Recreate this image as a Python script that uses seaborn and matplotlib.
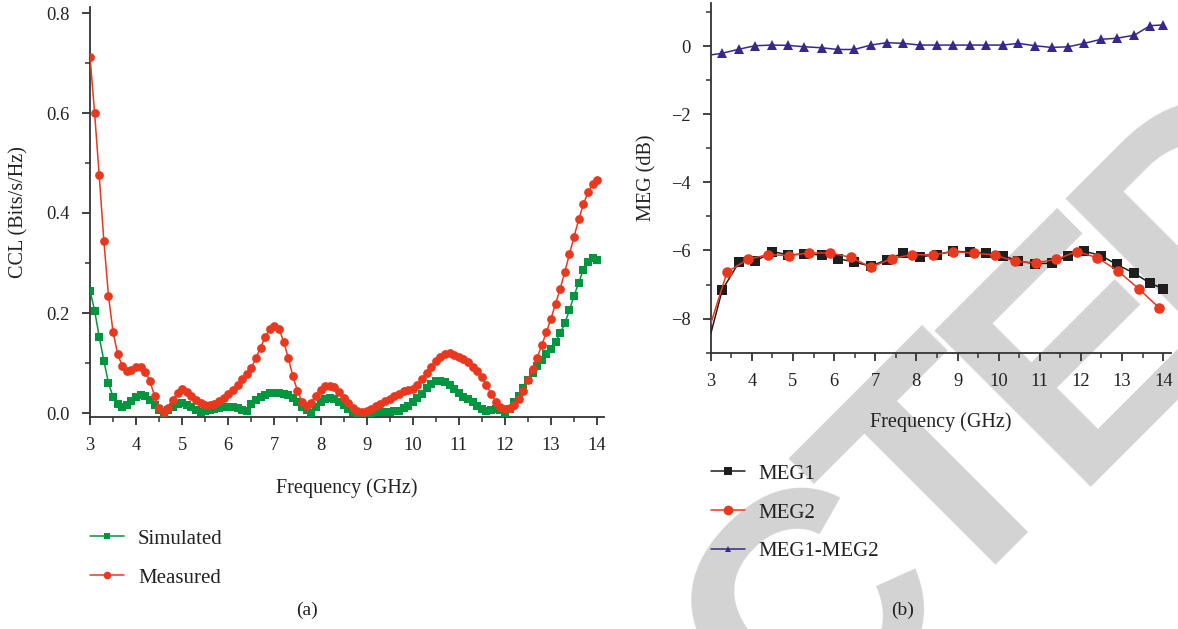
import numpy as np
import pandas as pd
import matplotlib
matplotlib.use("Agg")
import matplotlib.pyplot as plt
import seaborn as sns
from matplotlib.ticker import MultipleLocator, FormatStrFormatter
from matplotlib.lines import Line2D

# ---------------- data ----------------
freq_a = np.round(np.arange(3.0, 14.001, 0.1), 1)
simulated = [
    .245, .205, .152, .105, .060, .032, .018, .013, .017, .024,
    .032, .037, .035, .027, .017, .006, .000, .006, .013, .019,
    .020, .017, .012, .006, .003, .005, .007, .008, .010, .012,
    .013, .012, .010, .007, .005, .019, .027, .032, .036, .040,
    .041, .041, .039, .036, .031, .023, .013, .006, .001, .012,
    .022, .029, .031, .028, .023, .017, .009, .002, .001, .001,
    .001, .001, .002, .002, .002, .003, .004, .005, .010, .015,
    .022, .030, .039, .050, .058, .064, .064, .062, .057, .048,
    .040, .033, .028, .022, .014, .008, .005, .007, .009, .006,
    .000, .008, .022, .035, .050, .067, .080, .094, .107, .118,
    .128, .143, .160, .180, .206, .235, .260, .287, .303, .310,
    .307]
measured = [
    .713, .600, .475, .345, .235, .162, .118, .094, .084, .086,
    .092, .093, .083, .064, .034, .010, .002, .011, .027, .041,
    .048, .043, .035, .027, .020, .016, .016, .019, .025, .031,
    .039, .047, .056, .069, .079, .090, .110, .131, .152, .168,
    .175, .168, .143, .110, .074, .044, .022, .015, .021, .035,
    .047, .054, .055, .052, .043, .031, .020, .011, .005, .003,
    .004, .009, .014, .019, .024, .029, .034, .039, .044, .047,
    .049, .057, .068, .081, .093, .104, .112, .118, .120, .117,
    .113, .109, .102, .092, .084, .073, .056, .038, .023, .012,
    .008, .010, .017, .028, .044, .067, .088, .111, .136, .162,
    .189, .219, .249, .283, .318, .353, .387, .417, .441, .458,
    .465]

freq_b1 = [3.0, 3.28, 3.69, 4.08, 4.5, 4.89, 5.28, 5.7, 6.1, 6.49, 6.89, 7.28,
           7.68, 8.08, 8.49, 8.89, 9.3, 9.69, 10.1, 10.48, 10.88, 11.29, 11.69,
           12.08, 12.49, 12.87, 13.3, 13.68, 14.0]
meg1 = [-8.45, -7.16, -6.34, -6.32, -6.03, -6.13, -6.10, -6.13, -6.24, -6.34,
        -6.46, -6.27, -6.08, -6.19, -6.12, -6.02, -6.05, -6.08, -6.15, -6.31,
        -6.39, -6.37, -6.15, -6.02, -6.15, -6.41, -6.67, -6.96, -7.12]
meg_diff = [-0.26, -0.21, -0.09, 0.01, 0.03, 0.02, -0.02, -0.05, -0.10, -0.10,
            0.03, 0.10, 0.08, 0.03, 0.03, 0.03, 0.03, 0.03, 0.03, 0.08, 0.01,
            -0.04, -0.02, 0.08, 0.20, 0.23, 0.32, 0.60, 0.62]
freq_b2 = [3.0, 3.4, 3.9, 4.4, 4.9, 5.4, 5.9, 6.4, 6.9, 7.4, 7.9, 8.4, 8.9, 9.4,
           9.9, 10.4, 10.9, 11.4, 11.9, 12.4, 12.9, 13.4, 13.9]
meg2 = [-8.15, -6.63, -6.26, -6.12, -6.15, -6.07, -6.07, -6.20, -6.49, -6.24,
        -6.12, -6.13, -6.03, -6.08, -6.13, -6.32, -6.36, -6.26, -6.03, -6.21,
        -6.60, -7.12, -7.68]

labels_a = ["Simulated", "Measured"]
labels_b = ["MEG1", "MEG2", "MEG1-MEG2"]
watermark_letters = ["C", "T", "E", "D"]

# ---------------- style ----------------
sns.set_style("ticks")
plt.rcParams["font.family"] = ["Liberation Serif", "DejaVu Serif"]
plt.rcParams["axes.unicode_minus"] = True

GREEN = "#009640"
RED = "#e8381e"
BLACK = "#1e1e1e"
PURPLE = "#37288c"
AXC = "#333333"
TXT = "#222222"

W, H = 1178, 629
fig = plt.figure(figsize=(W / 100, H / 100), dpi=100)
fig.patch.set_facecolor("white")

# diagonal watermark, letter by letter along a 45 degree baseline (behind all)
baseline_sum = 1556.0
letter_t = [143, 329, 519, 714]
for ch, t in zip(watermark_letters, letter_t):
    px = (baseline_sum + 1.4142 * t) / 2
    py = (baseline_sum - 1.4142 * t) / 2
    fig.text(px / W, 1 - py / H, ch, rotation=45, rotation_mode="anchor",
             ha="center", va="baseline", fontsize=231, color="#d3d3d3",
             family=["Liberation Sans", "DejaVu Sans"], fontweight="bold",
             zorder=-5)

ax_a = fig.add_axes([90 / W, 212 / H, 513.6 / W, 410.5 / H])
ax_b = fig.add_axes([710.7 / W, (H - 352.7) / H, 459.9 / W, 349.2 / H])

df_a = pd.DataFrame({"f": freq_a, "Simulated": simulated, "Measured": measured})
sns.lineplot(data=df_a, x="f", y="Simulated", ax=ax_a, color=GREEN, lw=1.1,
             marker="s", markersize=6.2, markeredgewidth=0, legend=False, zorder=3)
sns.lineplot(data=df_a, x="f", y="Measured", ax=ax_a, color=RED, lw=1.1,
             marker="o", markersize=6.3, markeredgewidth=0, legend=False, zorder=4)

df_b1 = pd.DataFrame({"f": freq_b1, "MEG1": meg1, "diff": meg_diff})
df_b2 = pd.DataFrame({"f": freq_b2, "MEG2": meg2})
sns.lineplot(data=df_b1, x="f", y="MEG1", ax=ax_b, color=BLACK, lw=1.1,
             marker="s", markersize=7.4, markeredgewidth=0, markevery=slice(1, None),
             legend=False, zorder=3)
sns.lineplot(data=df_b2, x="f", y="MEG2", ax=ax_b, color=RED, lw=1.1,
             marker="o", markersize=7.6, markeredgewidth=0, markevery=slice(1, None),
             legend=False, zorder=4)
sns.lineplot(data=df_b1, x="f", y="diff", ax=ax_b, color=PURPLE, lw=1.1,
             marker="^", markersize=7.2, markeredgewidth=0, markevery=slice(1, None),
             legend=False, zorder=3)

for ax in (ax_a, ax_b):
    ax.set_facecolor("none")
    sns.despine(ax=ax)
    for s in ("left", "bottom"):
        ax.spines[s].set_linewidth(1.3)
        ax.spines[s].set_color(AXC)
    ax.tick_params(which="major", direction="out", length=6, width=1.3,
                   color=AXC, labelsize=13.3, pad=8.5, labelcolor=TXT)
    ax.tick_params(which="minor", direction="out", length=3.5, width=1.1, color=AXC)
    ax.xaxis.set_major_locator(MultipleLocator(1))
    ax.xaxis.set_minor_locator(MultipleLocator(0.5))

ax_a.set_xlabel("Frequency (GHz)", fontsize=14.5, labelpad=17.5, color=TXT)
ax_b.set_xlabel("Frequency (GHz)", fontsize=14.5, labelpad=16, color=TXT)

ax_a.set_xlim(3, 14.14)
ax_a.set_ylim(-0.008, 0.813)
ax_a.yaxis.set_major_locator(MultipleLocator(0.2))
ax_a.yaxis.set_minor_locator(MultipleLocator(0.1))
ax_a.yaxis.set_major_formatter(FormatStrFormatter("%.1f"))
ax_a.set_ylabel("CCL (Bits/s/Hz)", fontsize=14.5, labelpad=13, color=TXT)

ax_b.set_xlim(3, 14.18)
ax_b.set_ylim(-9.0, 1.25)
ax_b.yaxis.set_major_locator(MultipleLocator(2))
ax_b.yaxis.set_minor_locator(MultipleLocator(1))
ax_b.set_ylabel("MEG (dB)", fontsize=14.5, labelpad=10, color=TXT)

# legends
leg_kw = dict(loc="upper left", bbox_transform=fig.transFigure, frameon=False,
              fontsize=15, handlelength=1.65, handletextpad=0.65,
              labelspacing=0.93, borderpad=0, borderaxespad=0, labelcolor=TXT)
h_a = [Line2D([], [], color=GREEN, lw=1.1, marker="s", ms=5, mew=0),
       Line2D([], [], color=RED, lw=1.1, marker="o", ms=5.5, mew=0)]
fig.legend(h_a, labels_a, bbox_to_anchor=(90 / W, 1 - 529 / H), **leg_kw)
h_b = [Line2D([], [], color=BLACK, lw=1.1, marker="s", ms=5.5, mew=0),
       Line2D([], [], color=RED, lw=1.1, marker="o", ms=7, mew=0),
       Line2D([], [], color=PURPLE, lw=1.1, marker="^", ms=4.5, mew=0)]
fig.legend(h_b, labels_b, bbox_to_anchor=(710.7 / W, 1 - 464 / H), **leg_kw)

fig.text(307 / W, 1 - 610 / H, "(a)", ha="center", va="center", fontsize=14, color=TXT)
fig.text(903 / W, 1 - 610 / H, "(b)", ha="center", va="center", fontsize=14, color=TXT)

fig.savefig("out.png", dpi=100, facecolor="white")
